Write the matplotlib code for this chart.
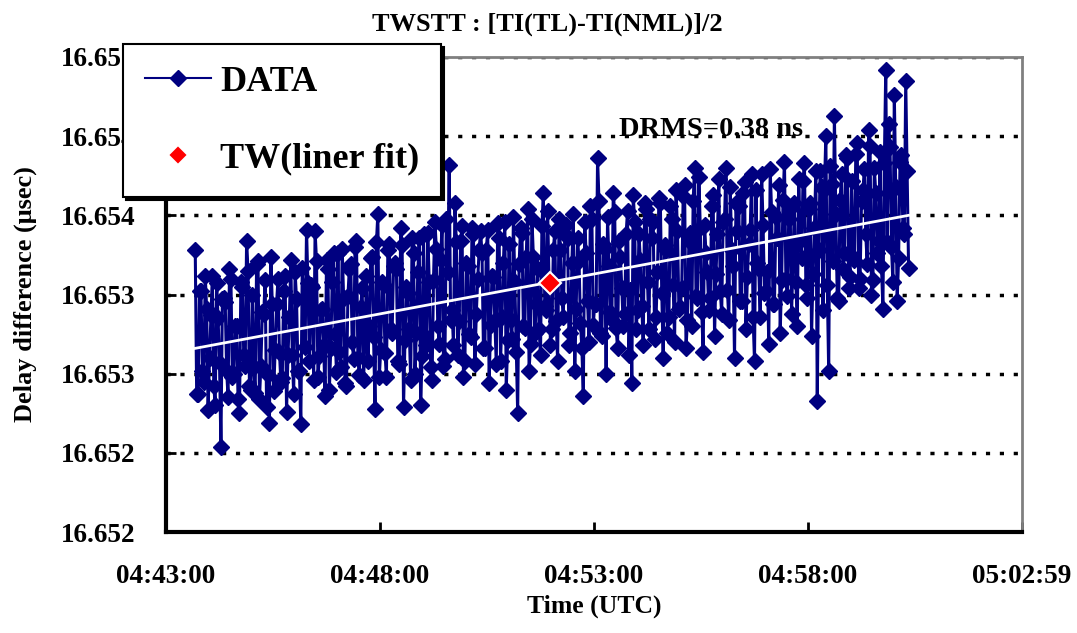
import numpy as np
import matplotlib
matplotlib.use("Agg")
import matplotlib.pyplot as plt
from matplotlib.lines import Line2D

plt.rcParams['font.family'] = ['Liberation Serif', 'DejaVu Serif']
plt.rcParams['font.weight'] = 'bold'

# samples every 2 s starting 04:43:41 (x is seconds after 04:43:00)
t_start = 41
t_step = 2

delay_us = [
    16.65378, 16.65287, 16.65287, 16.65352, 16.65352, 16.65302, 16.65295, 16.65362, 16.65341, 16.65277,
    16.65310, 16.65337, 16.65362, 16.65292, 16.65280, 16.65357, 16.65335, 16.65307, 16.65254, 16.65347,
    16.65348, 16.65345, 16.65302, 16.65285, 16.65366, 16.65360, 16.65298, 16.65300, 16.65330, 16.65330,
    16.65284, 16.65275, 16.65358, 16.65355, 16.65312, 16.65305, 16.65384, 16.65365, 16.65292, 16.65290,
    16.65350, 16.65304, 16.65288, 16.65369, 16.65371, 16.65284, 16.65305, 16.65339, 16.65338, 16.65359,
    16.65279, 16.65299, 16.65269, 16.65374, 16.65344, 16.65289, 16.65315, 16.65344, 16.65360, 16.65314,
    16.65295, 16.65297, 16.65352, 16.65362, 16.65276, 16.65312, 16.65336, 16.65372, 16.65312, 16.65287,
    16.65364, 16.65347, 16.65302, 16.65302, 16.65268, 16.65367, 16.65347, 16.65317, 16.65391, 16.65357,
    16.65308, 16.65356, 16.65355, 16.65296, 16.65390, 16.65371, 16.65298, 16.65311, 16.65340, 16.65341,
    16.65318, 16.65286, 16.65372, 16.65366, 16.65290, 16.65316, 16.65358, 16.65376, 16.65325, 16.65301,
    16.65376, 16.65314, 16.65304, 16.65379, 16.65348, 16.65294, 16.65292, 16.65349, 16.65366, 16.65369,
    16.65320, 16.65309, 16.65380, 16.65384, 16.65310, 16.65299, 16.65342, 16.65354, 16.65296, 16.65324,
    16.65362, 16.65308, 16.65330, 16.65373, 16.65374, 16.65323, 16.65278, 16.65383, 16.65401, 16.65298,
    16.65315, 16.65358, 16.65356, 16.65313, 16.65298, 16.65378, 16.65382, 16.65328, 16.65326, 16.65368,
    16.65370, 16.65366, 16.65308, 16.65306, 16.65392, 16.65381, 16.65279, 16.65321, 16.65355, 16.65351,
    16.65328, 16.65296, 16.65386, 16.65376, 16.65300, 16.65326, 16.65364, 16.65386, 16.65280, 16.65311,
    16.65388, 16.65324, 16.65318, 16.65389, 16.65358, 16.65304, 16.65296, 16.65359, 16.65396, 16.65379,
    16.65330, 16.65319, 16.65372, 16.65394, 16.65305, 16.65309, 16.65398, 16.65364, 16.65432, 16.65334,
    16.65340, 16.65318, 16.65408, 16.65383, 16.65312, 16.65333, 16.65384, 16.65393, 16.65298, 16.65308,
    16.65370, 16.65368, 16.65325, 16.65323, 16.65392, 16.65388, 16.65306, 16.65338, 16.65360, 16.65378,
    16.65390, 16.65376, 16.65316, 16.65316, 16.65378, 16.65391, 16.65294, 16.65331, 16.65362, 16.65361,
    16.65334, 16.65306, 16.65395, 16.65386, 16.65308, 16.65336, 16.65370, 16.65396, 16.65290, 16.65321,
    16.65382, 16.65334, 16.65322, 16.65399, 16.65358, 16.65314, 16.65275, 16.65369, 16.65392, 16.65389,
    16.65330, 16.65329, 16.65374, 16.65404, 16.65302, 16.65319, 16.65398, 16.65374, 16.65326, 16.65344,
    16.65366, 16.65328, 16.65312, 16.65393, 16.65414, 16.65343, 16.65340, 16.65403, 16.65357, 16.65318,
    16.65328, 16.65378, 16.65390, 16.65333, 16.65308, 16.65398, 16.65378, 16.65348, 16.65336, 16.65388,
    16.65394, 16.65386, 16.65318, 16.65326, 16.65370, 16.65401, 16.65302, 16.65341, 16.65386, 16.65371,
    16.65332, 16.65316, 16.65286, 16.65396, 16.65376, 16.65346, 16.65320, 16.65406, 16.65398, 16.65331,
    16.65344, 16.65344, 16.65436, 16.65409, 16.65326, 16.65324, 16.65382, 16.65379, 16.65300, 16.65399,
    16.65368, 16.65339, 16.65334, 16.65414, 16.65402, 16.65329, 16.65316, 16.65384, 16.65374, 16.65354,
    16.65330, 16.65338, 16.65388, 16.65403, 16.65312, 16.65353, 16.65294, 16.65413, 16.65396, 16.65328,
    16.65340, 16.65388, 16.65372, 16.65343, 16.65318, 16.65408, 16.65404, 16.65358, 16.65328, 16.65398,
    16.65386, 16.65396, 16.65322, 16.65336, 16.65364, 16.65411, 16.65408, 16.65351, 16.65310, 16.65381,
    16.65378, 16.65326, 16.65336, 16.65406, 16.65398, 16.65356, 16.65320, 16.65416, 16.65390, 16.65341,
    16.65342, 16.65354, 16.65412, 16.65419, 16.65316, 16.65334, 16.65384, 16.65389, 16.65330, 16.65409,
    16.65430, 16.65349, 16.65348, 16.65424, 16.65392, 16.65339, 16.65314, 16.65394, 16.65376, 16.65364,
    16.65340, 16.65348, 16.65406, 16.65413, 16.65324, 16.65363, 16.65388, 16.65423, 16.65352, 16.65338,
    16.65396, 16.65398, 16.65430, 16.65353, 16.65334, 16.65418, 16.65378, 16.65368, 16.65310, 16.65408,
    16.65390, 16.65406, 16.65346, 16.65346, 16.65414, 16.65421, 16.65328, 16.65361, 16.65382, 16.65391,
    16.65426, 16.65336, 16.65308, 16.65416, 16.65370, 16.65366, 16.65336, 16.65426, 16.65394, 16.65351,
    16.65352, 16.65364, 16.65319, 16.65429, 16.65402, 16.65344, 16.65344, 16.65399, 16.65386, 16.65419,
    16.65326, 16.65359, 16.65410, 16.65434, 16.65360, 16.65349, 16.65398, 16.65404, 16.65338, 16.65374,
    16.65408, 16.65358, 16.65330, 16.65423, 16.65384, 16.65373, 16.65422, 16.65433, 16.65356, 16.65348,
    16.65404, 16.65408, 16.65324, 16.65363, 16.65392, 16.65428, 16.65283, 16.65378, 16.65428, 16.65418,
    16.65340, 16.65416, 16.65450, 16.65356, 16.65302, 16.65431, 16.65420, 16.65371, 16.65463, 16.65401,
    16.65348, 16.65346, 16.65410, 16.65426, 16.65366, 16.65376, 16.65438, 16.65436, 16.65354, 16.65361,
    16.65422, 16.65374, 16.65372, 16.65439, 16.65446, 16.65354, 16.65360, 16.65409, 16.65416, 16.65429,
    16.65388, 16.65369, 16.65454, 16.65444, 16.65350, 16.65359, 16.65430, 16.65414, 16.65376, 16.65384,
    16.65440, 16.65368, 16.65341, 16.65433, 16.65492, 16.65383, 16.65458, 16.65443, 16.65380, 16.65358,
    16.65476, 16.65418, 16.65346, 16.65373, 16.65434, 16.65438, 16.65392, 16.65388, 16.65485, 16.65428,
    16.65367,
]
t_sec = t_start + t_step * np.arange(len(delay_us))

# linear fit end points and the TW point
fit_t = [t_sec[0], t_sec[-1]]
fit_val = [16.65316, 16.65400]
tw_t = [538]
tw_val = [16.65357]

yticks = [16.6520, 16.6525, 16.6530, 16.6535, 16.6540, 16.6545, 16.6550]
ytick_labels = ['16.652', '16.652', '16.653', '16.653', '16.654', '16.654', '16.655']
xticks = [0, 300, 600, 900, 1200]
xtick_labels = ['04:43:00', '04:48:00', '04:53:00', '04:58:00', '05:02:59']

fig = plt.figure(figsize=(10.77, 6.33), dpi=100)
ax = fig.add_axes([166/1077, 1-532/633, (1022-166)/1077, (532-57)/633])

navy = '#000080'
ax.plot(t_sec, delay_us, color=navy, lw=2.2, marker='D', ms=8, mec=navy, mfc=navy, zorder=3)
ax.plot(fit_t, fit_val, color='white', lw=2, zorder=4)
ax.plot(tw_t, tw_val, ls='none', marker='D', ms=11, mfc='red', mec='white', mew=1.5, zorder=5)

ax.set_xlim(0, 1200)
ax.set_ylim(16.652, 16.655)
ax.set_yticks(yticks)
ax.set_yticklabels(ytick_labels)
ax.set_xticks(xticks)
ax.set_xticklabels(xtick_labels)
ax.tick_params(axis='y', direction='in', length=7, width=2, labelsize=19.5, pad=22)
ax.tick_params(axis='x', direction='in', length=7, width=2, labelsize=19.5, pad=23)

for y in yticks[1:]:
    ax.axhline(y, color='black', lw=2.5, ls=(0, (1.2, 2.8)), zorder=1)

for s in ['left', 'bottom']:
    ax.spines[s].set_linewidth(3)
    ax.spines[s].set_color('black')
for s in ['top', 'right']:
    ax.spines[s].set_linewidth(2)
    ax.spines[s].set_color('#808080')

ax.set_xlabel('Time (UTC)', fontsize=18.5, fontweight='bold', labelpad=4)
ax.set_ylabel('Delay difference (μsec)', fontsize=19, fontweight='bold', labelpad=17)
fig.text(547/1077, 1-24/633, 'TWSTT : [TI(TL)-TI(NML)]/2', ha='center', va='center',
         fontsize=19, fontweight='bold')

ax.text(764, 16.65454, 'DRMS=0.38 ns', ha='center', va='center', fontsize=20.5,
        fontweight='bold', zorder=6)

handles = [
    Line2D([], [], color=navy, lw=1.5, marker='D', ms=8, mfc=navy, mec=navy),
    Line2D([], [], ls='none', marker='D', ms=10, mfc='red', mec='white', mew=1.5),
]
fig.legend(handles, ['DATA', 'TW(liner fit)'], loc='upper left',
           bbox_to_anchor=(123/1077, 1-44/633), bbox_transform=fig.transFigure,
           prop={'size': 26, 'weight': 'bold'}, frameon=True, fancybox=False,
           edgecolor='black', framealpha=1, borderpad=0.6, labelspacing=1.2,
           handlelength=1.85, handletextpad=0.25, borderaxespad=0,
           shadow={'color': 'black', 'alpha': 1})
fig.legends[0].get_frame().set_linewidth(1.5)

fig.savefig('out.png', dpi=100)
